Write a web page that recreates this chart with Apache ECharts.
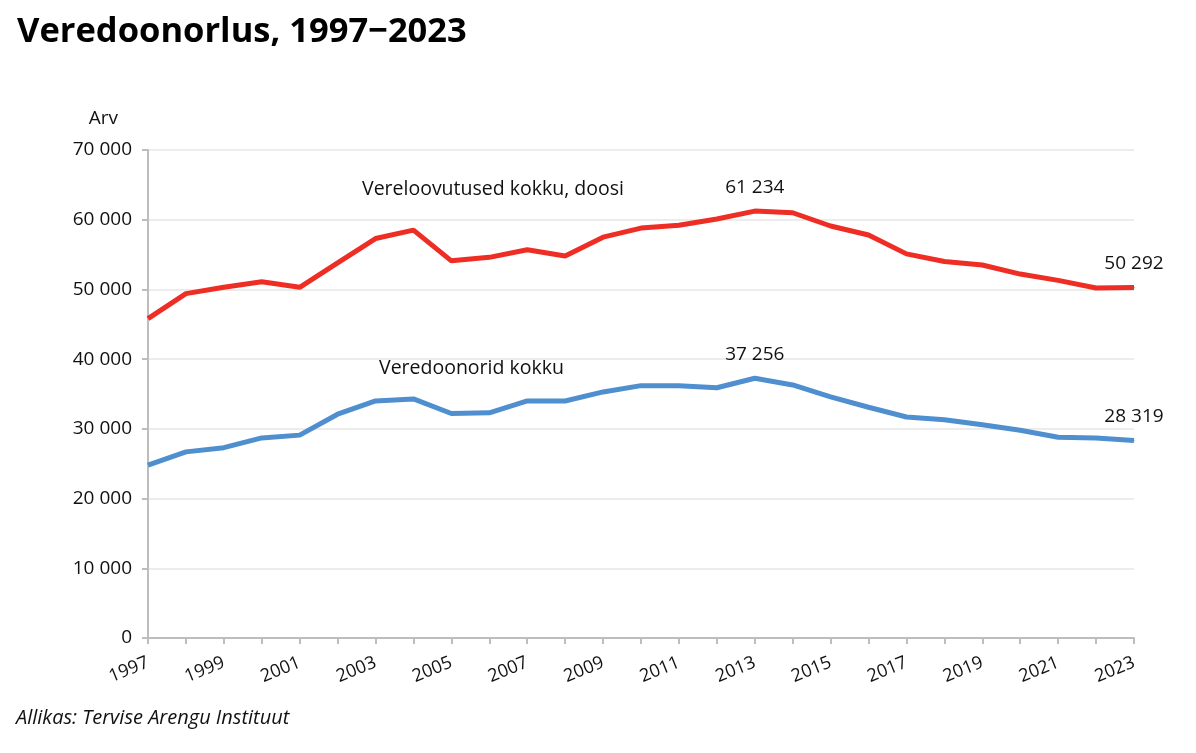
<!DOCTYPE html>
<html>
<head>
<meta charset="UTF-8">
<title>Veredoonorlus</title>
<script src="https://cdn.jsdelivr.net/npm/echarts@6/dist/echarts.min.js"></script>
<style>html,body{margin:0;padding:0;background:#fff}</style>
</head>
<body>
<div id="main" style="width:1196px;height:753px"></div>
<script>
var years = [];
for (var y = 1997; y <= 2023; y++) years.push(String(y));
var annetused = [45800, 49400, 50300, 51100, 50300, 53800, 57300, 58500, 54100, 54600, 55700, 54800, 57500, 58800, 59200, 60100, 61234, 61000, 59100, 57800, 55100, 54000, 53500, 52200, 51300, 50200, 50292];
var doonorid = [24800, 26700, 27300, 28700, 29100, 32100, 34000, 34300, 32200, 32300, 34000, 34000, 35300, 36200, 36200, 35900, 37256, 36300, 34600, 33100, 31700, 31300, 30600, 29800, 28800, 28700, 28319];
var labelledYears = ['2013', '2023'];
var fnt = '"Open Sans", "Noto Sans", sans-serif';

function fmt(v) {
    return String(v).replace(/\B(?=(\d{3})+(?!\d))/g, ' ');
}
// only 2013 and 2023 get a number above the line
function withLabels(arr) {
    return arr.map(function (v, i) {
        if (labelledYears.indexOf(years[i]) > -1) {
            return { value: v, symbol: 'circle', symbolSize: 1, label: { show: true } };
        }
        return { value: v, symbol: 'none' };
    });
}

var chart = echarts.init(document.getElementById('main'));
chart.setOption({
    backgroundColor: '#fff',
    animation: false,
    title: {
        text: 'Veredoonorlus, 1997\u22122023',
        left: 12, top: 10,
        textStyle: { fontFamily: fnt, fontWeight: 'bold', fontSize: 34.5, color: '#000' }
    },
    grid: { left: 148, right: 62, top: 150, bottom: 115, containLabel: false },
    xAxis: {
        type: 'category',
        data: years,
        boundaryGap: false,
        axisLine: { lineStyle: { color: '#bdbdbd', width: 2 } },
        axisTick: { show: true, interval: 0, length: 6, lineStyle: { color: '#bdbdbd', width: 2 } },
        axisLabel: { interval: 1, rotate: 22, margin: 24, color: '#111', fontFamily: fnt, fontSize: 18 }
    },
    yAxis: {
        type: 'value',
        min: 0, max: 70000, interval: 10000,
        name: 'Arv',
        nameLocation: 'end',
        nameGap: 22,
        nameTextStyle: { color: '#111', fontFamily: fnt, fontSize: 19, align: 'right', padding: [0, 30, 0, 0] },
        axisLine: { show: true, lineStyle: { color: '#bdbdbd', width: 2 } },
        axisTick: { show: true, length: 6, lineStyle: { color: '#bdbdbd', width: 2 } },
        axisLabel: { color: '#111', fontFamily: fnt, fontSize: 19, margin: 16, formatter: fmt },
        splitLine: { lineStyle: { color: '#ececec', width: 2 } }
    },
    series: [
        {
            name: 'Vereloovutused kokku, doosi',
            type: 'line',
            data: withLabels(annetused),
            lineStyle: { color: '#ee2e24', width: 5 },
            itemStyle: { color: '#ee2e24' },
            label: { position: 'top', distance: 14, color: '#111', fontFamily: fnt, fontSize: 19,
                formatter: function (p) { return fmt(p.value); } }
        },
        {
            name: 'Veredoonorid kokku',
            type: 'line',
            data: withLabels(doonorid),
            lineStyle: { color: '#4f8fcf', width: 5 },
            itemStyle: { color: '#4f8fcf' },
            label: { position: 'top', distance: 14, color: '#111', fontFamily: fnt, fontSize: 19,
                formatter: function (p) { return fmt(p.value); } }
        }
    ],
    graphic: [
        { type: 'text', left: 362, top: 179,
          style: { text: 'Vereloovutused kokku, doosi', fill: '#111', font: '19.5px ' + fnt } },
        { type: 'text', left: 379, top: 358,
          style: { text: 'Veredoonorid kokku', fill: '#111', font: '19.5px ' + fnt } },
        { type: 'text', left: 16, top: 708,
          style: { text: 'Allikas: Tervise Arengu Instituut', fill: '#111', font: 'italic 20px ' + fnt } }
    ]
});
</script>
</body>
</html>
